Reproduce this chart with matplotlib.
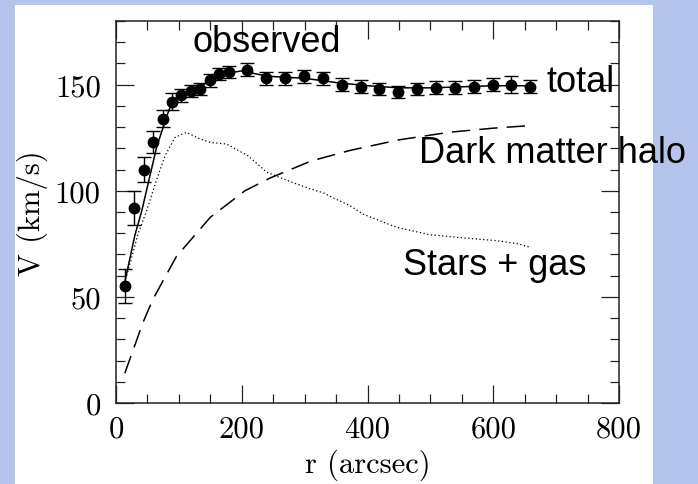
import numpy as np
import matplotlib.pyplot as plt
from matplotlib.patches import Rectangle
from matplotlib.ticker import MultipleLocator

# observed rotation curve
r_obs = [14, 29, 44, 59, 74, 89, 104, 119, 134, 149, 164, 179, 209, 239, 269,
         299, 329, 359, 389, 419, 449, 479, 509, 539, 569, 599, 629, 659]
v_obs = [55, 92, 110, 123, 134, 142, 145, 147, 148, 152, 155, 156, 157, 153, 153,
         154, 153, 150, 149, 148, 146.5, 148, 148.5, 148.5, 149, 150, 150, 149]
v_err = [8, 8, 6, 5, 4, 4, 3, 3, 3, 3, 3, 3, 3, 3, 3,
         3, 3, 3, 3, 3, 3, 3, 3, 3, 3, 3, 4, 3]

# total model
r_tot = [14, 30, 41, 65, 83, 91, 110, 130, 150, 170, 200, 240, 300, 350, 400,
         450, 500, 550, 600, 660]
v_tot = [57, 79, 90.6, 121, 137, 143, 146, 148.5, 152, 155, 156.5, 154, 153, 151,
         149.5, 148.5, 148.5, 149, 149.5, 149.5]

# stars + gas
r_star = [17, 35, 48, 65, 78, 94, 112, 134, 150, 176, 210, 240, 280, 308, 330,
          343, 372, 393, 446, 499, 552, 605, 640, 658]
v_star = [60, 79.6, 90, 105.6, 116.5, 125.2, 127.5, 124.4, 122.8, 122, 116.5, 108.7,
          104, 101, 99, 97, 93, 89, 82.8, 79.3, 77.8, 76.5, 75, 73.4]

# dark matter halo
r_halo = [14, 43, 59, 70, 96, 150, 205, 245, 310, 372, 450, 531, 600, 658]
v_halo = [14, 38, 49, 55, 69, 87.5, 100, 106, 114, 119, 124, 127.6, 129.5, 130.7]

W, H = 698, 485
fig = plt.figure(figsize=(W / 100, H / 100), dpi=100, facecolor='#b4c4ec')
fig.patches.append(Rectangle((15 / W, 0), (653 - 15) / W, (485 - 6) / H,
                             transform=fig.transFigure, facecolor='white',
                             edgecolor='none', zorder=-5))

ax = fig.add_axes([116 / W, (H - 404) / H, (619 - 116) / W, (404 - 22) / H])
ax.set_zorder(2)
ax.set_facecolor('white')

ax.errorbar(r_obs, v_obs, yerr=v_err, fmt='o', color='black', ms=7.5,
            capsize=5, elinewidth=1.0, capthick=1.0, zorder=3)
ax.plot(r_tot, v_tot, color='black', lw=1.1)
ax.plot(r_star, v_star, color='black', lw=0.9, linestyle=(0, (1, 2)))
ax.plot(r_halo, v_halo, color='black', lw=1.1, linestyle=(0, (12, 6)))

ax.set_xlim(0, 800)
ax.set_ylim(0, 180)
ax.xaxis.set_major_locator(MultipleLocator(200))
ax.xaxis.set_minor_locator(MultipleLocator(50))
ax.yaxis.set_major_locator(MultipleLocator(50))
ax.yaxis.set_minor_locator(MultipleLocator(10))
ax.tick_params(which='both', direction='in', top=True, right=True, color='#222222')
ax.tick_params(which='major', length=13, width=0.9)
ax.tick_params(which='minor', length=6.5, width=0.9)
ax.tick_params(axis='x', pad=9)
ax.tick_params(axis='y', pad=11)
for sp in ax.spines.values():
    sp.set_linewidth(1.1)
    sp.set_color('#222222')

serif = 'cmr10'
for lab in ax.get_xticklabels() + ax.get_yticklabels():
    lab.set_fontfamily(serif)
    lab.set_fontsize(22)
ax.set_xlabel('r (arcsec)', fontfamily=serif, fontsize=22, labelpad=4)
ax.set_ylabel('V (km/s)', fontfamily=serif, fontsize=22, labelpad=5)

sans = 'Liberation Sans'
ax.text(122, 166, 'observed', fontfamily=sans, fontsize=26, va='baseline', clip_on=False)
ax.text(684, 147, 'total', fontfamily=sans, fontsize=26, va='baseline', clip_on=False)
ax.text(482, 113.6, 'Dark matter halo', fontfamily=sans, fontsize=26, va='baseline', clip_on=False)
ax.text(456, 60.8, 'Stars + gas', fontfamily=sans, fontsize=26, va='baseline', clip_on=False)

fig.savefig('out.png', dpi=100, facecolor=fig.get_facecolor())
